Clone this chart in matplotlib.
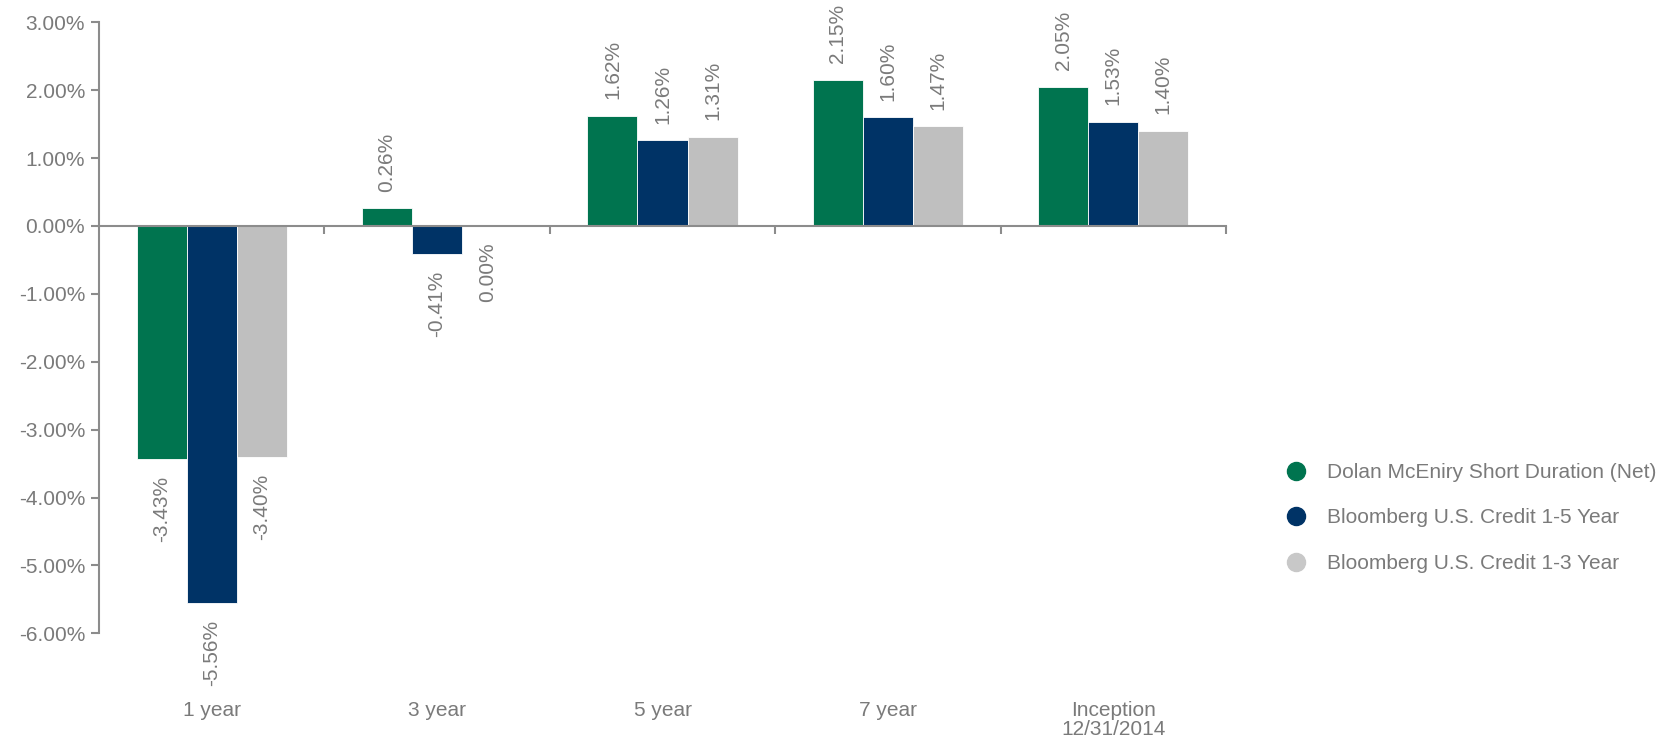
import matplotlib
matplotlib.use("Agg")
import matplotlib.pyplot as plt
import numpy as np
from matplotlib.lines import Line2D
from matplotlib.ticker import FuncFormatter

plt.rcParams['font.family'] = ['Liberation Sans', 'DejaVu Sans']

# data
categories = ['1 year', '3 year', '5 year', '7 year', 'Inception\n12/31/2014']
series_names = ['Dolan McEniry Short Duration (Net)',
                'Bloomberg U.S. Credit 1-5 Year',
                'Bloomberg U.S. Credit 1-3 Year']
dolan = [-3.43, 0.26, 1.62, 2.15, 2.05]
credit_1_5 = [-5.56, -0.41, 1.26, 1.60, 1.53]
credit_1_3 = [-3.40, 0.00, 1.31, 1.47, 1.40]

colors = ['#00744F', '#003366', '#BFBFBF']
legend_colors = ['#00744F', '#003366', '#C8C8C8']
text_gray = '#7A7A7A'
axis_gray = '#8C8C8C'

fig = plt.figure(figsize=(16.81, 7.43), dpi=100)
ax = fig.add_axes([99 / 1681, 1 - 633.3 / 743, (1226 - 99) / 1681, (633.3 - 22.3) / 743])

x = np.arange(len(categories))
width = 0.222
for i, vals in enumerate([dolan, credit_1_5, credit_1_3]):
    pos = x + (i - 1) * width
    ax.bar(pos, vals, width, color=colors[i], edgecolor='white', linewidth=0.6, zorder=2)
    # value labels: above positive bars, below zero / negative ones
    for px, v in zip(pos, vals):
        if v > 0:
            ax.annotate(f'{v:.2f}%', (px, v), xytext=(0, 12), textcoords='offset points',
                        rotation=90, ha='center', va='bottom', fontsize=15, color=text_gray)
        else:
            ax.annotate(f'{v:.2f}%', (px, v), xytext=(0, -12), textcoords='offset points',
                        rotation=90, ha='center', va='top', fontsize=15, color=text_gray)

ax.set_xlim(-0.5, len(categories) - 0.5)
ax.set_ylim(-6, 3)
ax.set_yticks(np.arange(-6, 3.01, 1))
ax.yaxis.set_major_formatter(FuncFormatter(lambda v, p: f'{v:.2f}%'))

# x-axis line sits at zero with ticks between categories
ax.spines['bottom'].set_position(('data', 0))
ax.set_xticks(x + 0.5)
ax.set_xticklabels([])
for s in ['top', 'right']:
    ax.spines[s].set_visible(False)
for s in ['left', 'bottom']:
    ax.spines[s].set_color(axis_gray)
    ax.spines[s].set_linewidth(1.5)
    ax.spines[s].set_zorder(3)
ax.tick_params(axis='y', colors=axis_gray, labelcolor=text_gray, labelsize=15,
               length=6, width=1.5, pad=4)
ax.tick_params(axis='x', colors=axis_gray, length=6, width=1.5)

trans = ax.get_xaxis_transform()
for xi, c in zip(x, categories):
    ax.text(xi, -0.11, c, transform=trans, ha='center', va='top', fontsize=15,
            color=text_gray, linespacing=1.0)

handles = [Line2D([], [], marker='o', linestyle='none', markersize=13,
                  markerfacecolor=c, markeredgecolor=c) for c in legend_colors]
fig.legend(handles, series_names, loc='upper left', bbox_to_anchor=(1286 / 1681, 1 - 463 / 743),
           frameon=False, fontsize=15, labelcolor=text_gray, handlelength=1.0,
           handletextpad=0.95, labelspacing=1.27, borderpad=0, borderaxespad=0)

fig.savefig('out.png', dpi=100)
